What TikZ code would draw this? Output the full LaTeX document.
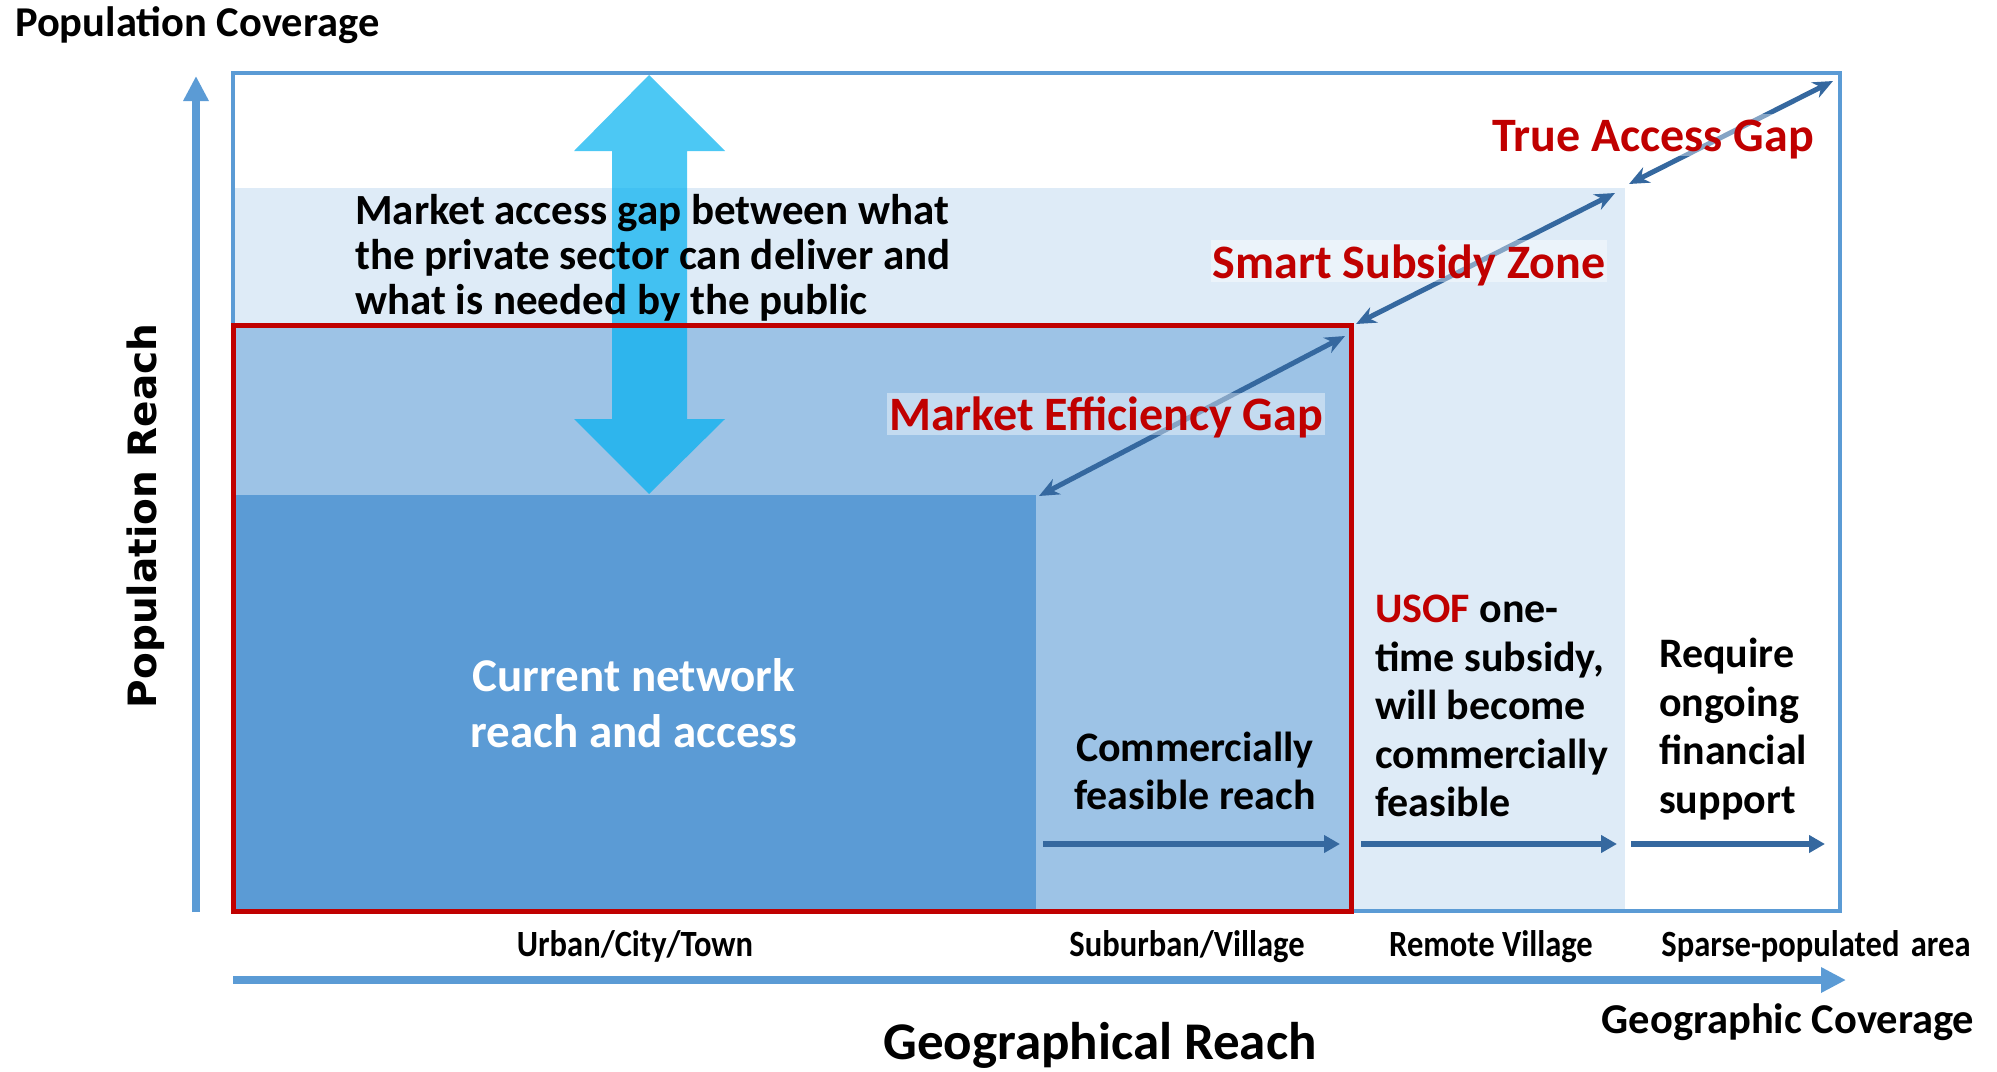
\documentclass[tikz,border=0pt]{standalone}
\usepackage{fontspec}
\setmainfont{Carlito}
\newfontfamily\widefont{DejaVu Sans}
\usetikzlibrary{arrows.meta}
\definecolor{axisblue}{HTML}{5B9BD5}
\definecolor{midblue}{HTML}{9DC3E6}
\definecolor{paleblue}{HTML}{DEEBF7}
\definecolor{gapblue}{HTML}{35689F}
\definecolor{gapred}{HTML}{C00000}
\definecolor{skyblue}{HTML}{00B0F0}

\begin{document}
\begin{tikzpicture}[x=1pt, y=-1pt,
    note/.style={font=\fontsize{43}{45}\selectfont\bfseries, align=left, inner sep=0pt},
    body/.style={font=\fontsize{42}{48.5}\selectfont\bfseries, inner sep=0pt},
    cat/.style={font=\fontsize{37}{40}\selectfont\bfseries, inner sep=0pt, xscale=0.88},
    title/.style={font=\fontsize{42.5}{46}\selectfont\bfseries, inner sep=0pt},
    gap/.style={font=\fontsize{48}{50}\selectfont\bfseries, text=gapred, fill=white, fill opacity=0.4, text opacity=1, inner xsep=2pt, inner ysep=0pt, text height=37pt, text depth=5pt},
    span/.style={gapblue, line width=5pt, {Stealth[length=20pt,width=17pt]}-{Stealth[length=20pt,width=17pt]}},
    reach/.style={gapblue, line width=6pt, -{Triangle[length=16pt,width=17pt]}},
    axis/.style={axisblue, line width=7.5pt, -{Triangle[length=25pt,width=24pt]}}
]
\useasboundingbox (0,0) rectangle (1997,1071);

\fill[paleblue] (233,188) rectangle (1625,911);
\fill[midblue] (233,325) rectangle (1351,911);
\fill[axisblue] (233,495) rectangle (1036,911);
\fill[skyblue, fill opacity=0.7] (649,75) -- (725,151) -- (687,151) -- (687,419) -- (725,419) -- (649,494)
    -- (574,419) -- (612,419) -- (612,151) -- (574,151) -- cycle;
\draw[axisblue, line width=3.5pt] (233,73) rectangle (1840,911);
\draw[gapred, line width=5pt] (233,325) rectangle (1351,911);

\coordinate (core) at (1039,496);
\coordinate (feasA) at (1345,336);
\coordinate (feasB) at (1356,324);
\coordinate (zoneA) at (1615,193);
\coordinate (zoneB) at (1629,184);
\coordinate (edge) at (1833,81);
\draw[span] (core) -- (feasA);
\draw[span] (feasB) -- (zoneA);
\draw[span] (zoneB) -- (edge);

\coordinate (s1) at (1043,844);
\coordinate (s2) at (1340,844);
\coordinate (r1) at (1361,844);
\coordinate (r2) at (1617,844);
\coordinate (p1) at (1631,844);
\coordinate (p2) at (1825,844);
\draw[reach] (s1) -- (s2);
\draw[reach] (r1) -- (r2);
\draw[reach] (p1) -- (p2);

\coordinate (yfoot) at (196,912);
\coordinate (ytip) at (196,76);
\coordinate (xfoot) at (233,980);
\coordinate (xtip) at (1846,980);
\draw[axis] (yfoot) -- (ytip);
\draw[axis] (xfoot) -- (xtip);

\node[title, anchor=base west] (ycov) at (15,36) {Population Coverage};
\node[font=\widefont\bfseries\fontsize{39}{40}\selectfont, rotate=90, inner sep=0pt] (yreach) at (146,516) {Population Reach};
\node[note, anchor=west] (market) at (355,258) {Market access gap between what\\the private sector can deliver and\\what is needed by the public};
\node[body, text=white, align=center, font=\fontsize{47}{56}\selectfont\bfseries] (current) at (634,703) {Current network\\reach and access};
\node[body, align=center] (comm) at (1195,771) {Commercially\\feasible reach};
\node[body, align=left, anchor=west] (usof) at (1375,706) {\textcolor{gapred}{USOF} one-\\time subsidy,\\will become\\commercially\\feasible};
\node[body, align=left, anchor=west] (ongoing) at (1659,729) {Require\\ongoing\\financial\\support};

\node[cat, anchor=base] (urban) at (635,956) {Urban/City/Town};
\node[cat, anchor=base] (suburb) at (1187,956) {Suburban/Village};
\node[cat, anchor=base] (remote) at (1491,956) {Remote Village};
\node[cat, anchor=base] (sparse) at (1816,956) {Sparse-populated\hspace{0.35em}area};
\node[title, anchor=base] (xcov) at (1788,1033) {Geographic Coverage};
\node[title, font=\fontsize{53}{56}\selectfont\bfseries, anchor=base] (xreach) at (1100,1059) {Geographical Reach};

\node[gap, anchor=base] (effgap) at (1106,430) {Market Efficiency Gap};
\node[gap, anchor=base, text height=38pt, text depth=4pt] (subsidy) at (1409,278) {Smart Subsidy Zone};
\node[gap, anchor=base] (truegap) at (1653,151) {True Access Gap};
\end{tikzpicture}
\end{document}
